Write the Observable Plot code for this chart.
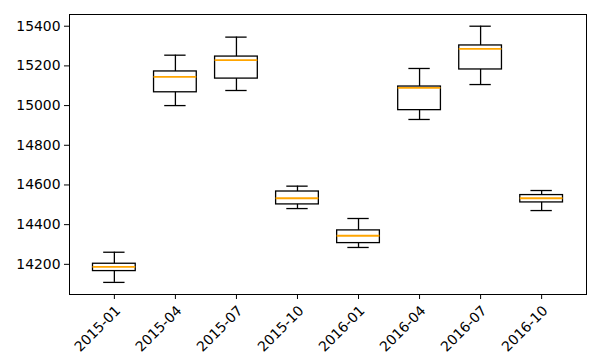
<!DOCTYPE html>
<html>
<head>
<meta charset="utf-8">
<script src="https://cdn.jsdelivr.net/npm/d3@7"></script>
<script src="https://cdn.jsdelivr.net/npm/@observablehq/plot@0.6"></script>
<style>
  html, body { margin: 0; padding: 0; background: #fff; }
  #chart svg { display: block; }
</style>
</head>
<body>
<div id="chart"></div>
<script>
const categories = ["2015-01","2015-04","2015-07","2015-10","2016-01","2016-04","2016-07","2016-10"];
const whiskerLow  = [14109, 15000, 15076, 14481, 14285, 14930, 15106, 14471];
const q1          = [14166, 15067, 15136, 14502, 14307, 14977, 15182, 14512];
const median      = [14187, 15145, 15229, 14533, 14344, 15089, 15286, 14533];
const q3          = [14203, 15172, 15247, 14567, 14371, 15096, 15303, 14549];
const whiskerHigh = [14261, 15254, 15345, 14594, 14431, 15187, 15400, 14572];
const yTicks = [14200, 14400, 14600, 14800, 15000, 15200, 15400];

const boxWidth = 0.7;
const data = categories.map((c, i) => ({
  cat: c, pos: i + 1,
  lo: whiskerLow[i], q1: q1[i], med: median[i], q3: q3[i], hi: whiskerHigh[i]
}));

const font = "DejaVu Sans, sans-serif";
const chart = Plot.plot({
  width: 600,
  height: 363,
  marginLeft: 69,
  marginRight: 14,
  marginTop: 14,
  marginBottom: 69,
  style: { fontFamily: font, fontSize: "13.9px", color: "#000", background: "#fff" },
  x: { type: "linear", domain: [0.265, 8.735] },
  y: { domain: [14048, 15459] },
  marks: [
    Plot.frame({ stroke: "#000", strokeWidth: 1 }),
    // whiskers
    Plot.ruleX(data, { x: "pos", y1: "lo", y2: "q1", stroke: "#000", strokeWidth: 1.3 }),
    Plot.ruleX(data, { x: "pos", y1: "q3", y2: "hi", stroke: "#000", strokeWidth: 1.3 }),
    // caps
    Plot.ruleY(data, { y: "lo", x1: d => d.pos - boxWidth / 4, x2: d => d.pos + boxWidth / 4, stroke: "#000", strokeWidth: 1.3 }),
    Plot.ruleY(data, { y: "hi", x1: d => d.pos - boxWidth / 4, x2: d => d.pos + boxWidth / 4, stroke: "#000", strokeWidth: 1.3 }),
    // boxes
    Plot.rect(data, { x1: d => d.pos - boxWidth / 2, x2: d => d.pos + boxWidth / 2, y1: "q1", y2: "q3", fill: "none", stroke: "#000", strokeWidth: 1.3 }),
    // medians
    Plot.ruleY(data, { y: "med", x1: d => d.pos - boxWidth / 2, x2: d => d.pos + boxWidth / 2, stroke: "orange", strokeWidth: 1.8 }),
    Plot.axisY({ ticks: yTicks, tickFormat: d => String(d), tickSize: 5, tickPadding: 4, label: null, fontSize: 13.9 }),
    Plot.axisX({
      ticks: categories.map((c, i) => i + 1),
      tickFormat: d => categories[d - 1],
      tickSize: 5, tickPadding: 5, tickRotate: -45,
      textAnchor: "end", lineAnchor: "top",
      label: null, fontSize: 13.9
    })
  ]
});
document.getElementById("chart").appendChild(chart);
</script>
</body>
</html>
